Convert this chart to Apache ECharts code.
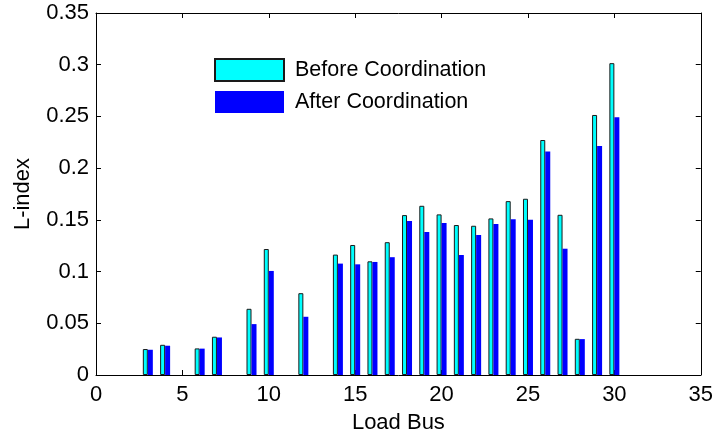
<!DOCTYPE html>
<html>
<head>
<meta charset="utf-8">
<script src="https://cdn.jsdelivr.net/npm/echarts@6/dist/echarts.min.js"></script>
<style>
  html, body { margin: 0; padding: 0; background: #fff; }
  #chart { width: 716px; height: 439px; }
</style>
</head>
<body>
<div id="chart"></div>
<script>
// Load buses and their L-index values before / after coordination
const loadBuses = [3, 4, 6, 7, 9, 10, 12, 14, 15, 16, 17, 18, 19, 20, 21, 22, 23, 24, 25, 26, 27, 28, 29, 30];
const beforeCoordination = [0.0251, 0.0292, 0.0257, 0.0370, 0.0640, 0.1218, 0.0791, 0.1164, 0.1257, 0.1099, 0.1284, 0.1546,
  0.1636, 0.1553, 0.1450, 0.1443, 0.1514, 0.1681, 0.1704, 0.2272, 0.1549, 0.0350, 0.2514, 0.3015];
const afterCoordination = [0.0244, 0.0283, 0.0255, 0.0363, 0.0492, 0.1006, 0.0563, 0.1077, 0.1070, 0.1093, 0.1139, 0.1488,
  0.1382, 0.1469, 0.1160, 0.1353, 0.1459, 0.1507, 0.1501, 0.2160, 0.1221, 0.0347, 0.2215, 0.2491];
const seriesNames = ['Before Coordination', 'After Coordination'];

const FONT = "'Liberation Sans', Arial, Helvetica, sans-serif";
const INK = '#000';

const chart = echarts.init(document.getElementById('chart'), null, { renderer: 'canvas' });

const xBase = { type: 'value', min: 0, max: 35, interval: 5, splitLine: { show: false } };
const yBase = { type: 'value', min: 0, max: 0.35, interval: 0.05, splitLine: { show: false } };
const frameLine = { show: true, onZero: false, lineStyle: { color: INK, width: 1 } };
const innerTick = { show: true, inside: true, length: 5, lineStyle: { color: INK, width: 1 } };

chart.setOption({
  animation: false,
  backgroundColor: '#fff',
  textStyle: { fontFamily: FONT },
  grid: { left: 96, right: 12, top: 13, bottom: 63, containLabel: false },
  legend: {
    data: seriesNames,
    orient: 'vertical',
    left: 214,
    top: 58,
    padding: 0,
    itemWidth: 69,
    itemHeight: 22,
    itemGap: 9,
    icon: 'rect',
    textStyle: { fontFamily: FONT, fontSize: 21.5, color: INK, padding: [0, 0, 0, 6] }
  },
  xAxis: [
    Object.assign({}, xBase, {
      position: 'bottom',
      name: 'Load Bus',
      nameLocation: 'middle',
      nameGap: 37,
      nameTextStyle: { fontFamily: FONT, fontSize: 22, color: INK },
      axisLine: frameLine,
      axisTick: innerTick,
      axisLabel: { fontFamily: FONT, fontSize: 22, color: INK, margin: 9 }
    }),
    Object.assign({}, xBase, {
      position: 'top',
      axisLine: frameLine,
      axisTick: innerTick,
      axisLabel: { show: false }
    })
  ],
  yAxis: [
    Object.assign({}, yBase, {
      position: 'left',
      name: 'L-index',
      nameLocation: 'middle',
      nameGap: 62,
      nameTextStyle: { fontFamily: FONT, fontSize: 22, color: INK },
      axisLine: frameLine,
      axisTick: innerTick,
      axisLabel: { fontFamily: FONT, fontSize: 22, color: INK, margin: 7 }
    }),
    Object.assign({}, yBase, {
      position: 'right',
      axisLine: frameLine,
      axisTick: innerTick,
      axisLabel: { show: false }
    })
  ],
  series: [
    {
      name: seriesNames[0],
      type: 'bar',
      xAxisIndex: 0,
      yAxisIndex: 0,
      barWidth: 5,
      barGap: '0%',
      itemStyle: { color: '#00FFFF', borderColor: '#1a1a1a', borderWidth: 1 },
      data: loadBuses.map((b, i) => [b, beforeCoordination[i]])
    },
    {
      name: seriesNames[1],
      type: 'bar',
      xAxisIndex: 0,
      yAxisIndex: 0,
      barWidth: 5,
      barGap: '0%',
      itemStyle: { color: '#0000FF', borderWidth: 0 },
      data: loadBuses.map((b, i) => [b, afterCoordination[i]])
    }
  ]
});
</script>
</body>
</html>
